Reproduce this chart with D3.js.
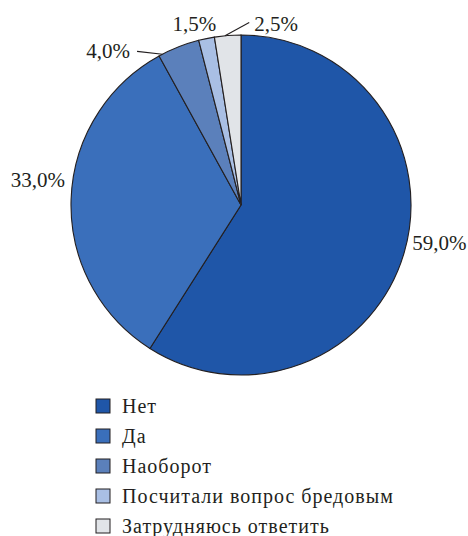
<!DOCTYPE html>
<html>
<head>
<meta charset="utf-8">
<script src="https://cdn.jsdelivr.net/npm/d3@7"></script>
<style>
  body { margin:0; background:#fff; }
</style>
</head>
<body>
<div class="container"></div>
<script>
// data
var categories = ["Нет", "Да", "Наоборот", "Посчитали вопрос бредовым", "Затрудняюсь ответить"];
var values = [59.0, 33.0, 4.0, 1.5, 2.5];
var colors = ["#1f56a8", "#3a6fbb", "#5b80bb", "#a9bfe4", "#e1e4e8"];

var width = 468, height = 536;
var cx = 241, cy = 205, radius = 170;
var ink = "#231f20";
var serif = "Liberation Serif";

// label placement: radius from centre, extra shift, anchor, leader line edge angle
var labelPos = [
  {r: 172, dx: 6, dy: -3, anchor: "start"},
  {r: 173, dx: -3, dy: -13, anchor: "end"},
  {r: 190, dx: -41, dy: 30, anchor: "end", lead: 332.5},
  {r: 190, dx: -8, dy: 12, anchor: "middle"},
  {r: 190, dx: 50, dy: 15, anchor: "middle", lead: 354.6}
];

var svg = d3.select(".container").append("svg")
  .attr("width", width).attr("height", height);

var g = svg.append("g").attr("transform", "translate(" + cx + "," + cy + ")");

var pie = d3.pie().value(function(d){ return d; }).sort(null);
var arc = d3.arc().innerRadius(0).outerRadius(radius);
var arcs = pie(values);

g.selectAll("path")
  .data(arcs)
  .enter().append("path")
  .attr("d", arc)
  .attr("fill", function(d, i){ return colors[i]; })
  .attr("stroke", ink)
  .attr("stroke-width", 1.1);

function polar(angleDeg, r) {
  var a = angleDeg * Math.PI / 180;
  return [Math.sin(a) * r, -Math.cos(a) * r];
}

function fmt(v) { return v.toFixed(1).replace(".", ",") + "%"; }

arcs.forEach(function(d, i) {
  var lp = labelPos[i];
  var mid = (d.startAngle + d.endAngle) / 2 * 180 / Math.PI;
  var p = polar(mid, lp.r);
  var tx = p[0] + lp.dx, ty = p[1] + lp.dy;
  var t = g.append("text")
    .attr("x", tx).attr("y", ty)
    .attr("text-anchor", lp.anchor)
    .attr("font-family", serif)
    .attr("font-size", 21)
    .attr("fill", ink)
    .text(fmt(values[i]));
  if (lp.lead !== undefined) {
    var bb = t.node().getBBox();
    var e = polar(lp.lead, radius);
    var sx = lp.anchor === "end" ? bb.x + bb.width + 7 : bb.x - 5;
    var sy = lp.anchor === "end" ? ty - 7 : ty - 8;
    g.append("line")
      .attr("x1", sx).attr("y1", sy)
      .attr("x2", e[0]).attr("y2", e[1])
      .attr("stroke", ink).attr("stroke-width", 1.1);
  }
});

// legend
var legend = svg.append("g").attr("transform", "translate(96,399)");
var rows = legend.selectAll("g")
  .data(categories)
  .enter().append("g")
  .attr("transform", function(d, i){ return "translate(0," + (i * 30) + ")"; });

rows.append("rect")
  .attr("width", 14).attr("height", 14)
  .attr("fill", function(d, i){ return colors[i]; })
  .attr("stroke", ink).attr("stroke-width", 1);

rows.append("text")
  .attr("x", 26).attr("y", 14)
  .attr("font-family", serif)
  .attr("font-size", 20)
  .attr("letter-spacing", 1)
  .attr("fill", ink)
  .text(function(d){ return d; });
</script>
</body>
</html>
